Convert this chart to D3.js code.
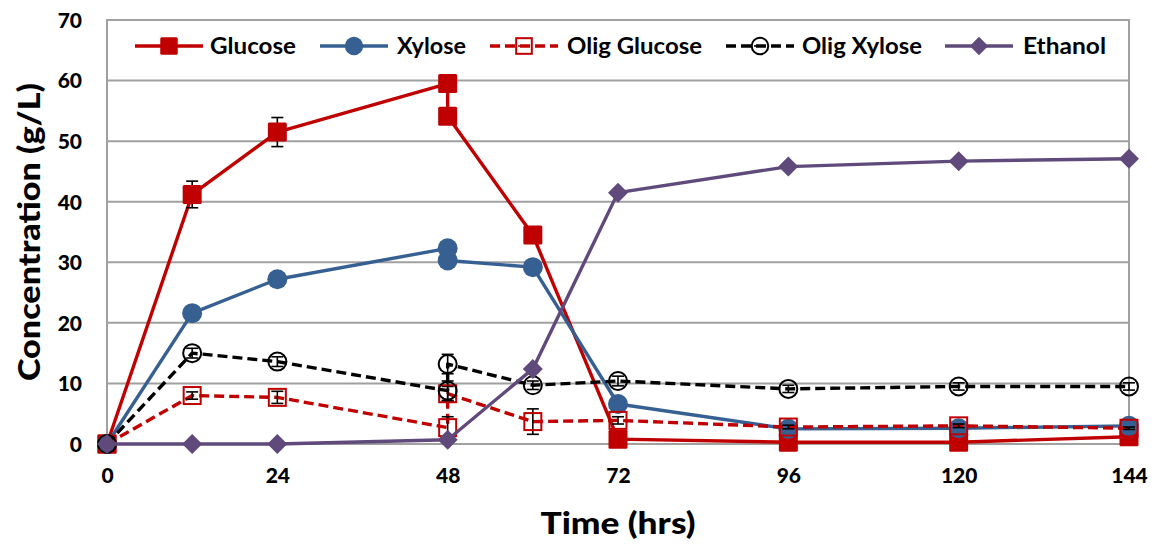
<!DOCTYPE html>
<html>
<head>
<meta charset="utf-8">
<script src="https://cdn.jsdelivr.net/npm/d3@7"></script>
<style>
  html, body { margin: 0; padding: 0; background: #fff; }
  svg { display: block; }
  text { font-family: Lato, "Open Sans", sans-serif; font-weight: bold; fill: #000; }
</style>
</head>
<body>
<svg id="chart" width="1153" height="544"></svg>
<script>
// Sampling times (hrs); t = 48 was sampled twice
const sugarTimes = [0, 12, 24, 48, 48, 60, 72, 96, 120, 144];
const ethanolTimes = [0, 12, 24, 48, 60, 72, 96, 120, 144];

// Concentrations (g/L) and standard deviations
const glucose     = [0, 41.2, 51.5, 59.5, 54.1, 34.5, 0.8, 0.3, 0.3, 1.2];
const glucoseErr  = [0, 2.2, 2.4, 0.4, 0.4, 0.4, 0.3, 0.2, 0.2, 0.2];
const xylose      = [0, 21.6, 27.2, 32.3, 30.3, 29.2, 6.6, 2.5, 2.6, 3.0];
const xyloseErr   = [0, 0, 0, 0, 0, 0, 0, 0, 0, 0];
const oligGlucose    = [0, 8.0, 7.7, 2.7, 8.3, 3.7, 3.9, 2.8, 3.0, 2.6];
const oligGlucoseErr = [0, 0.6, 1.0, 1.8, 1.2, 2.1, 0.6, 0.3, 0.3, 0.2];
const oligXylose     = [0, 15.0, 13.6, 8.8, 13.2, 9.7, 10.4, 9.1, 9.5, 9.5];
const oligXyloseErr  = [0, 0.8, 0.8, 1.6, 1.6, 0.7, 0.8, 0.6, 0.6, 0.6];
const ethanol    = [0, 0, 0, 0.7, 12.4, 41.5, 45.8, 46.7, 47.1];
const ethanolErr = [0, 0, 0, 0, 0, 0, 0, 0, 0];

const xTicks = [0, 24, 48, 72, 96, 120, 144];
const yTicks = [0, 10, 20, 30, 40, 50, 60, 70];

const series = [
  { name: "Glucose", t: sugarTimes, v: glucose, e: glucoseErr, color: "#C00000", dash: null, marker: "square", filled: true },
  { name: "Xylose", t: sugarTimes, v: xylose, e: xyloseErr, color: "#376092", dash: null, marker: "circle", filled: true },
  { name: "Olig Glucose", t: sugarTimes, v: oligGlucose, e: oligGlucoseErr, color: "#C00000", dash: "10,5", marker: "square", filled: false },
  { name: "Olig Xylose", t: sugarTimes, v: oligXylose, e: oligXyloseErr, color: "#000000", dash: "10,5", marker: "circle", filled: false },
  { name: "Ethanol", t: ethanolTimes, v: ethanol, e: ethanolErr, color: "#604A7B", dash: null, marker: "diamond", filled: true }
];

const svg = d3.select("#chart");
const m = { left: 107, right: 1129, top: 20, bottom: 444 };

const x = d3.scaleLinear().domain([0, 144]).range([m.left, m.right]);
const y = d3.scaleLinear().domain([0, 70]).range([m.bottom, m.top]);

// Horizontal gridlines
svg.append("g").selectAll("line").data(yTicks).join("line")
  .attr("x1", m.left).attr("x2", m.right)
  .attr("y1", d => y(d)).attr("y2", d => y(d))
  .attr("stroke", "#A0A0A0").attr("stroke-width", 2);

// Plot frame
svg.append("rect")
  .attr("x", m.left).attr("y", m.top)
  .attr("width", m.right - m.left).attr("height", m.bottom - m.top)
  .attr("fill", "none").attr("stroke", "#A0A0A0").attr("stroke-width", 2);

// Axes (labels only; the frame provides the axis lines)
const yAxis = svg.append("g").attr("transform", `translate(${m.left - 25},0)`)
  .call(d3.axisLeft(y).tickValues(yTicks).tickSize(0).tickPadding(0));
yAxis.select(".domain").remove();
yAxis.selectAll("text").attr("font-size", 21).attr("dy", "0.35em")
  .style("font-family", "Lato, sans-serif").style("font-weight", "900");

const xAxis = svg.append("g").attr("transform", `translate(0,${m.bottom})`)
  .call(d3.axisBottom(x).tickValues(xTicks).tickSize(0).tickPadding(24));
xAxis.select(".domain").remove();
xAxis.selectAll("text").attr("font-size", 21)
  .style("font-family", "Lato, sans-serif").style("font-weight", "900");

// Axis titles
svg.append("text")
  .attr("transform", `translate(40,${(m.top + m.bottom) / 2}) rotate(-90)`)
  .attr("text-anchor", "middle")
  .attr("font-size", 30)
  .style("font-weight", "900")
  .attr("textLength", 298).attr("lengthAdjust", "spacingAndGlyphs")
  .text("Concentration (g/L)");

svg.append("text")
  .attr("x", 618).attr("y", 534)
  .attr("text-anchor", "middle")
  .attr("font-size", 31)
  .style("font-weight", "900")
  .attr("textLength", 155).attr("lengthAdjust", "spacingAndGlyphs")
  .text("Time (hrs)");

function drawMarker(g, s, cx, cy, scale) {
  const k = scale || 1;
  if (s.marker === "square") {
    const sz = (s.filled ? 19 : 17) * k;
    g.append("rect")
      .attr("x", cx - sz / 2).attr("y", cy - sz / 2)
      .attr("width", sz).attr("height", sz)
      .attr("rx", s.filled ? 1.5 : 0)
      .attr("fill", s.filled ? s.color : "none")
      .attr("stroke", s.color).attr("stroke-width", s.filled ? 0 : 2);
  } else if (s.marker === "circle") {
    const r = (s.filled ? 10 : 9) * k;
    g.append("circle").attr("cx", cx).attr("cy", cy).attr("r", r)
      .attr("fill", s.filled ? s.color : "none")
      .attr("stroke", s.color).attr("stroke-width", s.filled ? 0 : 2);
  } else {
    const h = 10 * k;
    g.append("path")
      .attr("d", `M${cx},${cy - h}L${cx + h},${cy}L${cx},${cy + h}L${cx - h},${cy}Z`)
      .attr("fill", s.color);
  }
}

const line = d3.line().x(d => x(d.t)).y(d => y(d.v));

series.forEach(s => {
  const pts = s.t.map((t, i) => ({ t, v: s.v[i], e: s.e[i] }));
  const g = svg.append("g");

  g.append("path").datum(pts)
    .attr("d", line)
    .attr("fill", "none")
    .attr("stroke", s.color)
    .attr("stroke-width", 3.4)
    .attr("stroke-dasharray", s.dash)
    .attr("stroke-linejoin", "round");

  // Error bars
  const eb = g.append("g").attr("stroke", "#000").attr("stroke-width", 1.6);
  pts.filter(p => p.e > 0).forEach(p => {
    const cx = x(p.t);
    eb.append("line").attr("x1", cx).attr("x2", cx).attr("y1", y(p.v - p.e)).attr("y2", y(p.v + p.e));
    [p.v - p.e, p.v + p.e].forEach(v => {
      eb.append("line").attr("x1", cx - 6).attr("x2", cx + 6).attr("y1", y(v)).attr("y2", y(v));
    });
  });

  pts.forEach(p => drawMarker(g, s, x(p.t), y(p.v)));
});

// Legend
const legendItems = [
  { x0: 135, tx: 210, w: 86 },
  { x0: 320, tx: 397, w: 69 },
  { x0: 490, tx: 567, w: 135 },
  { x0: 726, tx: 802, w: 120 },
  { x0: 945, tx: 1023, w: 83 }
];
const lg = svg.append("g");
series.forEach((s, i) => {
  const li = legendItems[i];
  const ly = 46;
  lg.append("line")
    .attr("x1", li.x0).attr("x2", li.x0 + 68)
    .attr("y1", ly).attr("y2", ly)
    .attr("stroke", s.color).attr("stroke-width", 3.4)
    .attr("stroke-dasharray", s.dash);
  drawMarker(lg, s, li.x0 + 34, ly, 0.92);
  if (s.name === "Olig Xylose") {
    lg.append("line").attr("x1", li.x0 + 28).attr("x2", li.x0 + 40)
      .attr("y1", ly).attr("y2", ly).attr("stroke", "#000").attr("stroke-width", 1.6);
  }
  if (s.name === "Olig Glucose") {
    lg.append("line").attr("x1", li.x0 + 28).attr("x2", li.x0 + 40)
      .attr("y1", ly).attr("y2", ly).attr("stroke", s.color).attr("stroke-width", 1.6);
  }
  lg.append("text")
    .attr("x", li.tx).attr("y", ly).attr("dy", "0.36em")
    .attr("font-size", 23)
    .attr("textLength", li.w).attr("lengthAdjust", "spacingAndGlyphs")
    .text(s.name);
});
</script>
</body>
</html>
